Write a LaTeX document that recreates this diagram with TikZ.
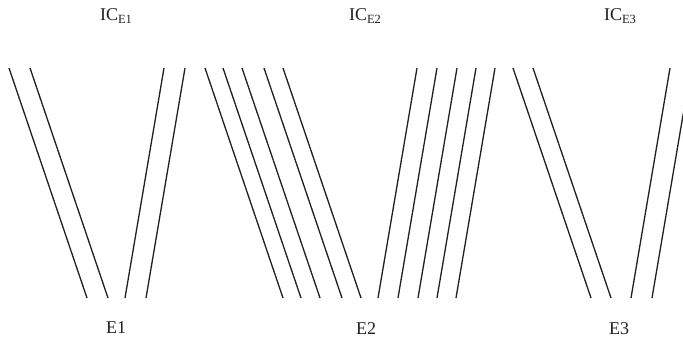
\documentclass[tikz,border=0pt]{standalone}
\usepackage{fontspec}
\setmainfont{Liberation Serif}
\usetikzlibrary{positioning}
\definecolor{inkdark}{HTML}{231F20}
\newcommand{\icsub}[1]{IC\raisebox{-0.3ex}{\fontsize{12.5}{14}\selectfont #1}}

\begin{document}
\begin{tikzpicture}[x=1pt, y=-1pt,
    fiber/.style={draw=inkdark, line width=1.3pt},
    lbl/.style={font=\fontsize{18}{21}\selectfont, text=inkdark, inner sep=0pt}]
    \useasboundingbox (0,0) rectangle (683,342);
    \fill[white] (0,0) rectangle (683,342);
    \clip (0,0) rectangle (683,342);
    % lines leaning right (top left, foot right)
    \foreach \b in {87,108, 283,301,320,342,361, 591,611}{%
      \draw[fiber] (\b-78,68) -- (\b,298);}
    % lines leaning left (foot left, top right)
    \foreach \b in {125,146, 378,398,418,437,456, 631,652}{%
      \draw[fiber] (\b,298) -- (\b+39,68);}
    % labels
    \node[lbl] (ice1) at (116,16) {\icsub{E1}};
    \node[lbl] (ice2) at (365,16) {\icsub{E2}};
    \node[lbl] (ice3) at (620,16) {\icsub{E3}};
    \node[lbl] (e1) at (116,328) {E1};
    \node[lbl] (e2) at (366,329) {E2};
    \node[lbl] (e3) at (619,329) {E3};
  \end{tikzpicture}
\end{document}
